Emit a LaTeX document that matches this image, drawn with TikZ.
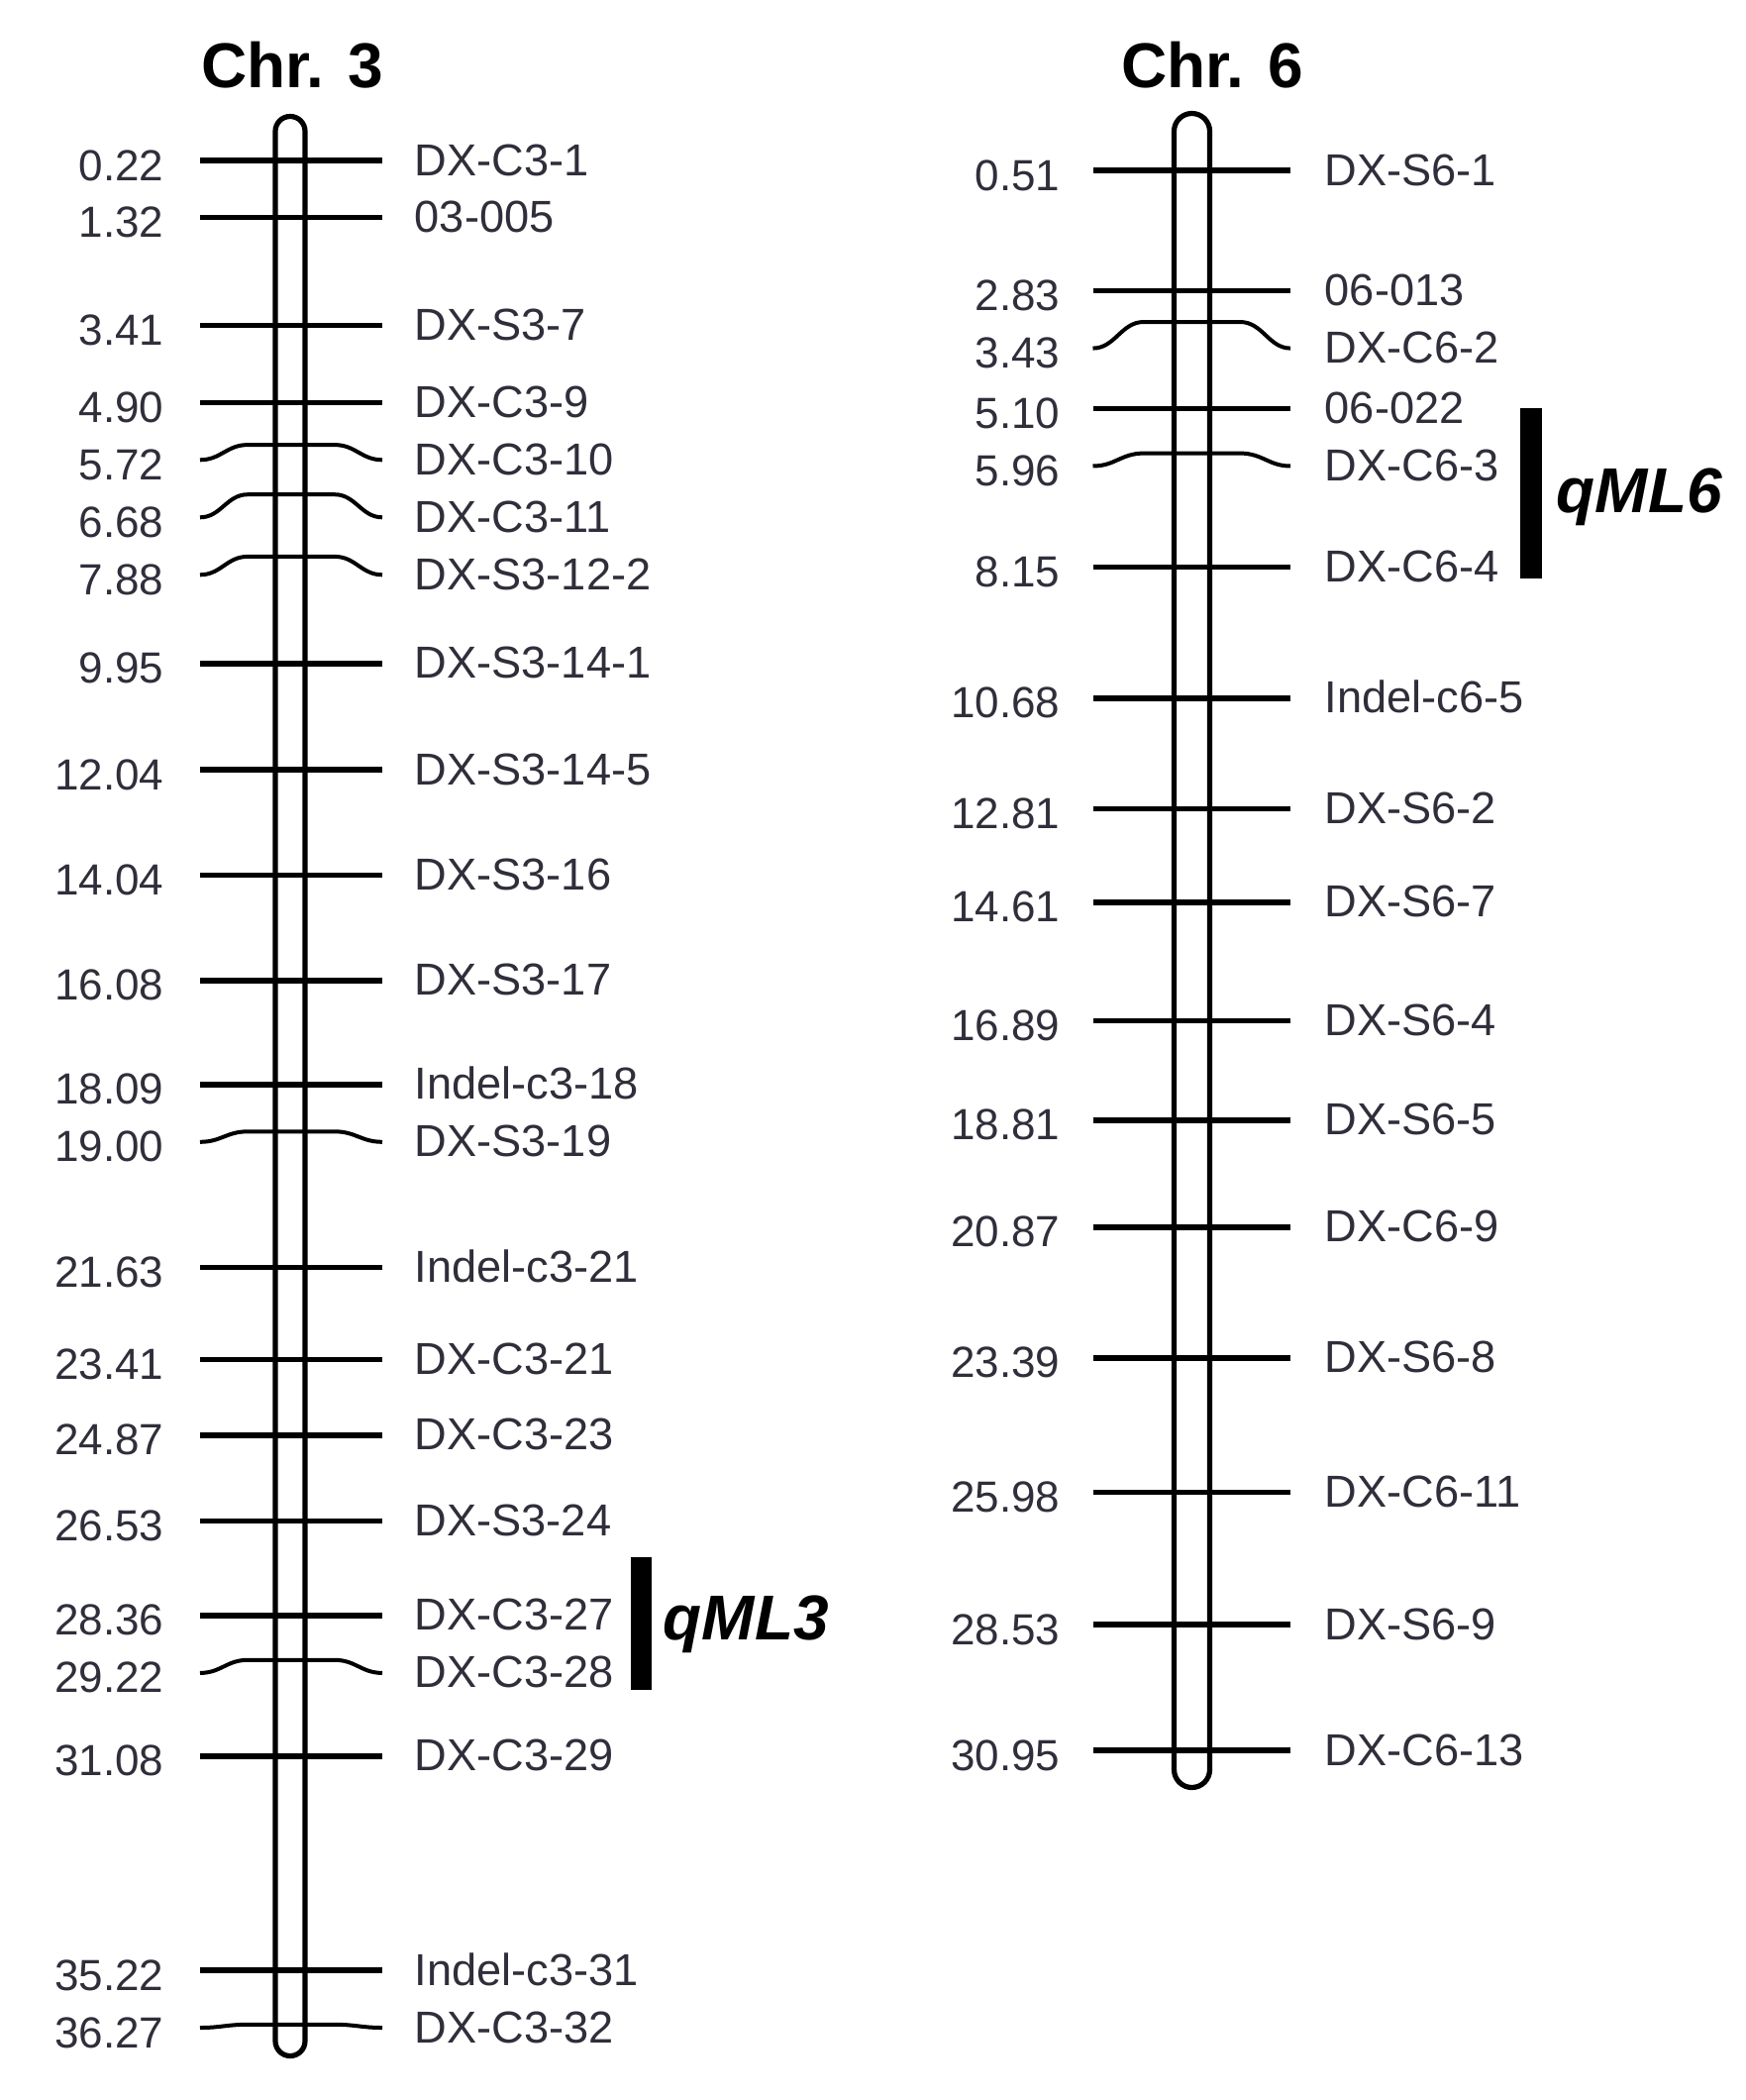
\documentclass[tikz,border=0pt]{standalone}
\usepackage{fontspec}
\setmainfont{Liberation Sans}
\definecolor{lab}{RGB}{48,46,58}
\begin{document}
\begin{tikzpicture}[x=0.25pt,y=-0.25pt,
  tick/.style={line width=1.4pt},
  bendmk/.style={line width=1.0pt},
  chrom/.style={line width=1.3pt},
  num/.style={anchor=base east,inner sep=0pt,font=\fontsize{11}{13}\selectfont,text=lab},
  lbl/.style={anchor=base west,inner sep=0pt,font=\fontsize{11.3}{13}\selectfont,text=lab},
  ttl/.style={anchor=base,inner sep=0pt,font=\fontsize{16}{19}\selectfont\bfseries},
  qtl/.style={anchor=base west,inner sep=0pt,font=\fontsize{16}{19}\selectfont\bfseries\itshape}]
\useasboundingbox (0,0) rectangle (1763,2120);

% ---------------- Chromosome 3 ----------------
\node[ttl] (t3) at (295,88) {Chr. 3};
\draw[chrom,rounded corners=3.75pt] (278,117.5) rectangle (308,2075.5);
% straight markers
\foreach \y in {162,219.4,328.5,406.3,669.9,777.0,883.4,989.9,1094.8,1279.6,1372.5,1448.7,1535.4,1630.9,1772.9,1989.0}
  \draw[tick] (202,\y) -- (386,\y);
% displaced markers
\foreach \yf/\yl in {449.1/464.3,499.2/522.3,561.9/580.3,1142.3/1152.8,1675.8/1688.9,2043.8/2047.0}
  \draw[bendmk] (202,\yl) .. controls (223,\yl) and (229,\yf) .. (250,\yf) -- (338,\yf)
     .. controls (359,\yf) and (365,\yl) .. (386,\yl);
% labels
\foreach \yl/\n/\m [count=\i] in {162/0.22/DX-C3-1, 219.4/1.32/03-005, 328.5/3.41/DX-S3-7,
  406.3/4.90/DX-C3-9, 464.3/5.72/DX-C3-10, 522.3/6.68/DX-C3-11, 580.3/7.88/DX-S3-12-2,
  669.9/9.95/DX-S3-14-1, 777.0/12.04/DX-S3-14-5, 883.4/14.04/DX-S3-16, 989.9/16.08/DX-S3-17,
  1094.8/18.09/Indel-c3-18, 1152.8/19.00/DX-S3-19, 1279.6/21.63/Indel-c3-21,
  1372.5/23.41/DX-C3-21, 1448.7/24.87/DX-C3-23, 1535.4/26.53/DX-S3-24, 1630.9/28.36/DX-C3-27,
  1688.9/29.22/DX-C3-28, 1772.9/31.08/DX-C3-29, 1989.0/35.22/Indel-c3-31, 2047.0/36.27/DX-C3-32}
{
  \node[num] (n3-\i) at (166,\yl+20) {\n};
  \node[lbl] (m3-\i) at (418,\yl+15) {\m};
}
\fill (637,1572) rectangle (658,1706);
\node[qtl] (q3) at (669,1655) {qML3};

% ---------------- Chromosome 6 ----------------
\node[ttl] (t6) at (1224,88) {Chr. 6};
\draw[chrom,rounded corners=4.5pt] (1185.5,114.5) rectangle (1221.5,1804.5);
\foreach \y in {172.0,293.6,412.5,572.3,704.9,816.5,910.8,1030.3,1130.9,1238.9,1370.9,1506.6,1640.2,1767.1}
  \draw[tick] (1103.5,\y) -- (1303,\y);
\foreach \yf/\yl in {325.0/351.6,457.6/470.5}
  \draw[bendmk] (1103.5,\yl) .. controls (1126,\yl) and (1132,\yf) .. (1155,\yf) -- (1252,\yf)
     .. controls (1275,\yf) and (1281,\yl) .. (1303,\yl);
\foreach \yl/\n/\m [count=\i] in {172.0/0.51/DX-S6-1, 293.6/2.83/06-013, 351.6/3.43/DX-C6-2,
  412.5/5.10/06-022, 470.5/5.96/DX-C6-3, 572.3/8.15/DX-C6-4, 704.9/10.68/Indel-c6-5,
  816.5/12.81/DX-S6-2, 910.8/14.61/DX-S6-7, 1030.3/16.89/DX-S6-4, 1130.9/18.81/DX-S6-5,
  1238.9/20.87/DX-C6-9, 1370.9/23.39/DX-S6-8, 1506.6/25.98/DX-C6-11, 1640.2/28.53/DX-S6-9,
  1767.1/30.95/DX-C6-13}
{
  \node[num] (n6-\i) at (1071,\yl+20) {\n};
  \node[lbl] (m6-\i) at (1337,\yl+15) {\m};
}
\fill (1535,412) rectangle (1557,584);
\node[qtl] (q6) at (1571,517) {qML6};
\end{tikzpicture}
\end{document}
